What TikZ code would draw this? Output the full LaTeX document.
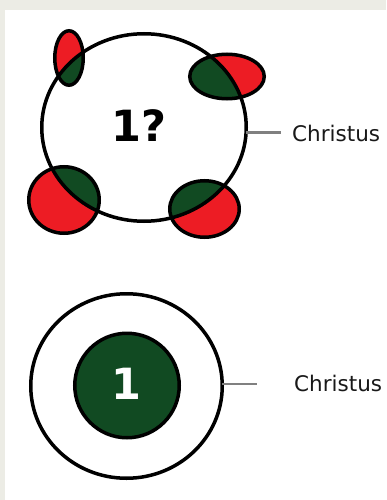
\documentclass[tikz,border=0pt]{standalone}
\usepackage{fontspec}
\setmainfont{DejaVu Sans}
\usetikzlibrary{shapes.geometric}
\definecolor{framegray}{RGB}{236,236,229}
\definecolor{ringred}{RGB}{237,28,36}
\definecolor{ringgreen}{RGB}{17,74,34}
\definecolor{linegray}{RGB}{128,128,128}
\tikzset{
  outline/.style={draw=black, line width=3.5pt},
  ringnode/.style={ellipse, outline, inner sep=0pt, outer sep=0pt},
  connector/.style={draw=linegray, line width=2.5pt},
  label/.style={font=\fontsize{21.5}{25}\selectfont, anchor=base west, inner sep=0pt, text=black!90},
  bignum/.style={font=\fontsize{43}{48}\selectfont\bfseries, inner sep=0pt},
}
\begin{document}
\begin{tikzpicture}[x=1pt,y=-1pt]
\useasboundingbox (0,0) rectangle (386,500);
\fill[framegray] (0,0) rectangle (386,500);
\fill[white] (5,10) rectangle (386,500);

% ---- top diagram ----
\def\satA{(69,58) ellipse [x radius=14.25, y radius=27.25]}
\def\satB{(227,76.5) ellipse [x radius=37.25, y radius=22.25]}
\def\satC{(64,200) ellipse [x radius=35.25, y radius=33.25]}
\def\satD{(204.5,209) ellipse [x radius=34.75, y radius=28.25]}
\fill[ringred] \satA;
\fill[ringred] \satB;
\fill[ringred] \satC;
\fill[ringred] \satD;
\begin{scope}
  \clip (144,127.5) ellipse [x radius=102.25, y radius=93.75];
  \fill[ringgreen] \satA;
  \fill[ringgreen] \satB;
  \fill[ringgreen] \satC;
  \fill[ringgreen] \satD;
\end{scope}
\draw[outline] \satA;
\draw[outline] \satB;
\draw[outline] \satC;
\draw[outline] \satD;
\node[ringnode, minimum width=204.5pt, minimum height=187.5pt] (big) at (144,127.5) {};
\node[bignum] (q) at (139,126) {1?};
\coordinate (bigend) at (280.5,132.5);
\draw[connector] (big.east |- bigend) -- (bigend);
\node[label] (chrA) at (292,141.7) {Christus};

% ---- bottom diagram ----
\node[ringnode, minimum width=191.5pt, minimum height=184.5pt] (outer) at (126.5,386) {};
\node[ringnode, fill=ringgreen, minimum size=104.5pt] (inner) at (127,385.5) {};
\node[bignum, text=white] (one) at (126.5,383.5) {1};
\coordinate (outerend) at (257,384);
\draw[connector] (outer.east |- outerend) -- (outerend);
\node[label] (chrB) at (294,391.7) {Christus};
\end{tikzpicture}
\end{document}
